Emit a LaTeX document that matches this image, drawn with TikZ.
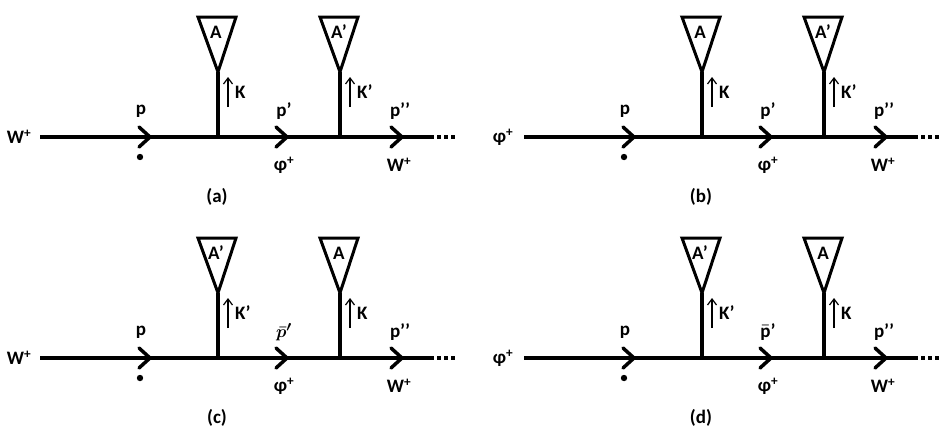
\documentclass[tikz,border=0pt]{standalone}
\usepackage{fontspec}
\setmainfont{Carlito}
\usetikzlibrary{arrows.meta,positioning}

% one diagram: left label, first and second vertex labels, middle momentum, tag
\newcommand{\feynpanel}[9]{%
\begin{scope}[shift={(#1,#2)}]
\node[lbl] (left) at (19,137) {#3};
\coordinate (start) at (40,137);
\coordinate (va) at (218,137);
\coordinate (vb) at (340,137);
\coordinate (stop) at (430,137);
\coordinate (apa) at (218,72);
\coordinate (apb) at (340,72);
\draw[line] (start) -- (va) -- (vb) -- (stop);
\draw[line, dash pattern=on 4pt off 3pt] (stop) -- (457,137);
\foreach \x in {150,287,402}
  \draw[chev] (\x-11,127) -- (\x,137) -- (\x-11,147);
\draw[tri] (apa) -- (198,17) -- (236,17) -- cycle;
\draw[tri] (apb) -- (320,17) -- (358,17) -- cycle;
\node[lbl] (la) at (216,32) {#4};
\node[lbl] (lb) at (339,32) {#6};
\draw[line] (apa) -- (va);
\draw[line] (apb) -- (vb);
\draw[karrow] (228,107) -- (228,77);
\draw[karrow] (350,107) -- (350,77);
\node[lbl, anchor=west] at (235,92) {#5};
\node[lbl, anchor=west] at (357,92) {#7};
\node[lbl] (pa) at (141,111) {p};
\fill (140,157) circle (3.2);
\node[lbl] (pb) at (284,111) {#8};
\node[lbl] (phi) at (284,165) {φ\textsuperscript{+}};
\node[lbl] (pc) at (400,111) {p’’};
\node[lbl] (wout) at (399,165) {W\textsuperscript{+}};
\node[lbl] (tag) at (217,197) {#9};
\end{scope}}

\tikzset{
  lbl/.style={font=\fontsize{19}{20}\selectfont\bfseries\boldmath, inner sep=0},
  line/.style={line width=3.5pt},
  chev/.style={line width=3.5pt, line cap=round, line join=miter},
  karrow/.style={line width=1.2pt, -{Straight Barb[length=6pt,width=9pt]}},
  tri/.style={draw, line width=3pt, line join=miter}
}

\begin{document}
\begin{tikzpicture}[x=1pt,y=-1pt]
\useasboundingbox (0,0) rectangle (949,437);
\feynpanel{0}{0}{W\textsuperscript{+}}{A}{K}{A’}{K’}{p’}{(a)}
\feynpanel{484}{0}{φ\textsuperscript{+}}{A}{K}{A’}{K’}{p’}{(b)}
\feynpanel{0}{221}{W\textsuperscript{+}}{A’}{K’}{A}{K}{$\bar{p}'$}{(c)}
\feynpanel{484}{221}{φ\textsuperscript{+}}{A’}{K’}{A}{K}{$\bar{\mathrm{p}}$’}{(d)}
\end{tikzpicture}
\end{document}
